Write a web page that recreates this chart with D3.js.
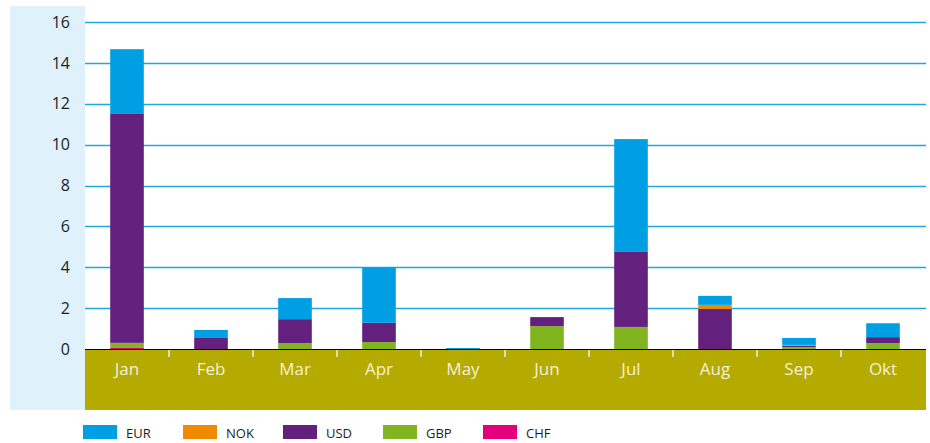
<!DOCTYPE html>
<html><head><meta charset="utf-8">
<script src="https://cdn.jsdelivr.net/npm/d3@7"></script>
<style>html,body{margin:0;padding:0;background:#fff;} svg{display:block;}</style>
</head><body>
<svg id="c" width="930" height="443"></svg>
<script>
const months = ["Jan","Feb","Mar","Apr","May","Jun","Jul","Aug","Sep","Okt"];
const EUR = [3.17, 0.39, 1.03, 2.71, 0.05, 0, 5.52, 0.44, 0.34, 0.68];
const NOK = [0, 0, 0, 0, 0, 0, 0, 0.2, 0.03, 0];
const USD = [11.2, 0.54, 1.17, 0.94, 0, 0.44, 3.67, 1.96, 0.07, 0.29];
const GBP = [0.25, 0, 0.29, 0.34, 0, 1.12, 1.08, 0, 0.1, 0.29];
const CHF = [0.05, 0, 0, 0, 0, 0, 0, 0, 0, 0];
const yTicks = [0, 2, 4, 6, 8, 10, 12, 14, 16];
const legendKeys = ["EUR","NOK","USD","GBP","CHF"];
const stackKeys = ["CHF","GBP","USD","NOK","EUR"];
const colors = {EUR:"#009fe3", NOK:"#f08a00", USD:"#63207c", GBP:"#80b51f", CHF:"#e4007d"};
const seriesMap = {EUR, NOK, USD, GBP, CHF};

const rows = months.map((m, i) => {
  const r = {month: m};
  stackKeys.forEach(k => r[k] = seriesMap[k][i]);
  return r;
});

const svg = d3.select("#c");
const pLeft = 85, pRight = 926, pTop = 22, pBase = 349, bandBottom = 410;
const x = d3.scaleBand().domain(months).range([pLeft, pLeft + 840]).paddingInner(0.6).paddingOuter(0.3);
const y = d3.scaleLinear().domain([0, 16]).range([pBase, pTop]);

// light blue panel behind y labels
svg.append("rect").attr("x", 10).attr("y", 6).attr("width", pLeft - 10).attr("height", bandBottom - 6).attr("fill", "#dff1fb");

// gridlines
svg.append("g").selectAll("line").data(yTicks.filter(d => d > 0)).join("line")
  .attr("x1", pLeft).attr("x2", pRight)
  .attr("y1", d => Math.round(y(d)) + 0.5).attr("y2", d => Math.round(y(d)) + 0.5)
  .attr("stroke", "#1ea8e2").attr("stroke-width", 1.3);

// y axis labels
const yAxis = d3.axisLeft(y).tickValues(yTicks).tickSize(0).tickPadding(0);
const yg = svg.append("g").attr("transform", `translate(70,0)`).call(yAxis);
yg.select(".domain").remove();
yg.selectAll("text").attr("font-family", "'Open Sans', sans-serif").attr("font-size", 16).attr("fill", "#1d1d1b");

// stacked bars
const stacked = d3.stack().keys(stackKeys)(rows);
svg.append("g").selectAll("g").data(stacked).join("g")
  .attr("fill", d => colors[d.key])
  .selectAll("rect").data(d => d).join("rect")
  .attr("x", d => x(d.data.month))
  .attr("width", x.bandwidth())
  .attr("y", d => y(d[1]))
  .attr("height", d => Math.max(0, y(d[0]) - y(d[1])));

// olive band
svg.append("rect").attr("x", pLeft).attr("y", pBase).attr("width", pRight - pLeft).attr("height", bandBottom - pBase).attr("fill", "#b5aa00");
// baseline
svg.append("line").attr("x1", pLeft).attr("x2", pRight).attr("y1", pBase + 0.5).attr("y2", pBase + 0.5).attr("stroke", "#000").attr("stroke-width", 1.2);

// x axis (month labels + separator ticks)
const xg = svg.append("g");
xg.selectAll("line").data(months.slice(1)).join("line")
  .attr("x1", d => x(d) - x.step() * x.paddingInner() / 2)
  .attr("x2", d => x(d) - x.step() * x.paddingInner() / 2)
  .attr("y1", pBase + 1).attr("y2", pBase + 8)
  .attr("stroke", "#f3efcf").attr("stroke-width", 1.5);
xg.selectAll("text").data(months).join("text")
  .attr("x", d => x(d) + x.bandwidth() / 2).attr("y", 375)
  .attr("text-anchor", "middle")
  .attr("font-family", "'Open Sans', sans-serif").attr("font-size", 17)
  .attr("fill", "#f5f1d6").text(d => d);

// legend
const lg = svg.append("g").selectAll("g").data(legendKeys).join("g")
  .attr("transform", (d, i) => `translate(${83 + i * 100},425)`);
lg.append("rect").attr("width", 34).attr("height", 14).attr("fill", d => colors[d]);
lg.append("text").attr("x", 43).attr("y", 13).attr("font-family", "'Open Sans', sans-serif")
  .attr("font-size", 13).attr("fill", "#1d1d1b").text(d => d);
</script>
</body></html>
